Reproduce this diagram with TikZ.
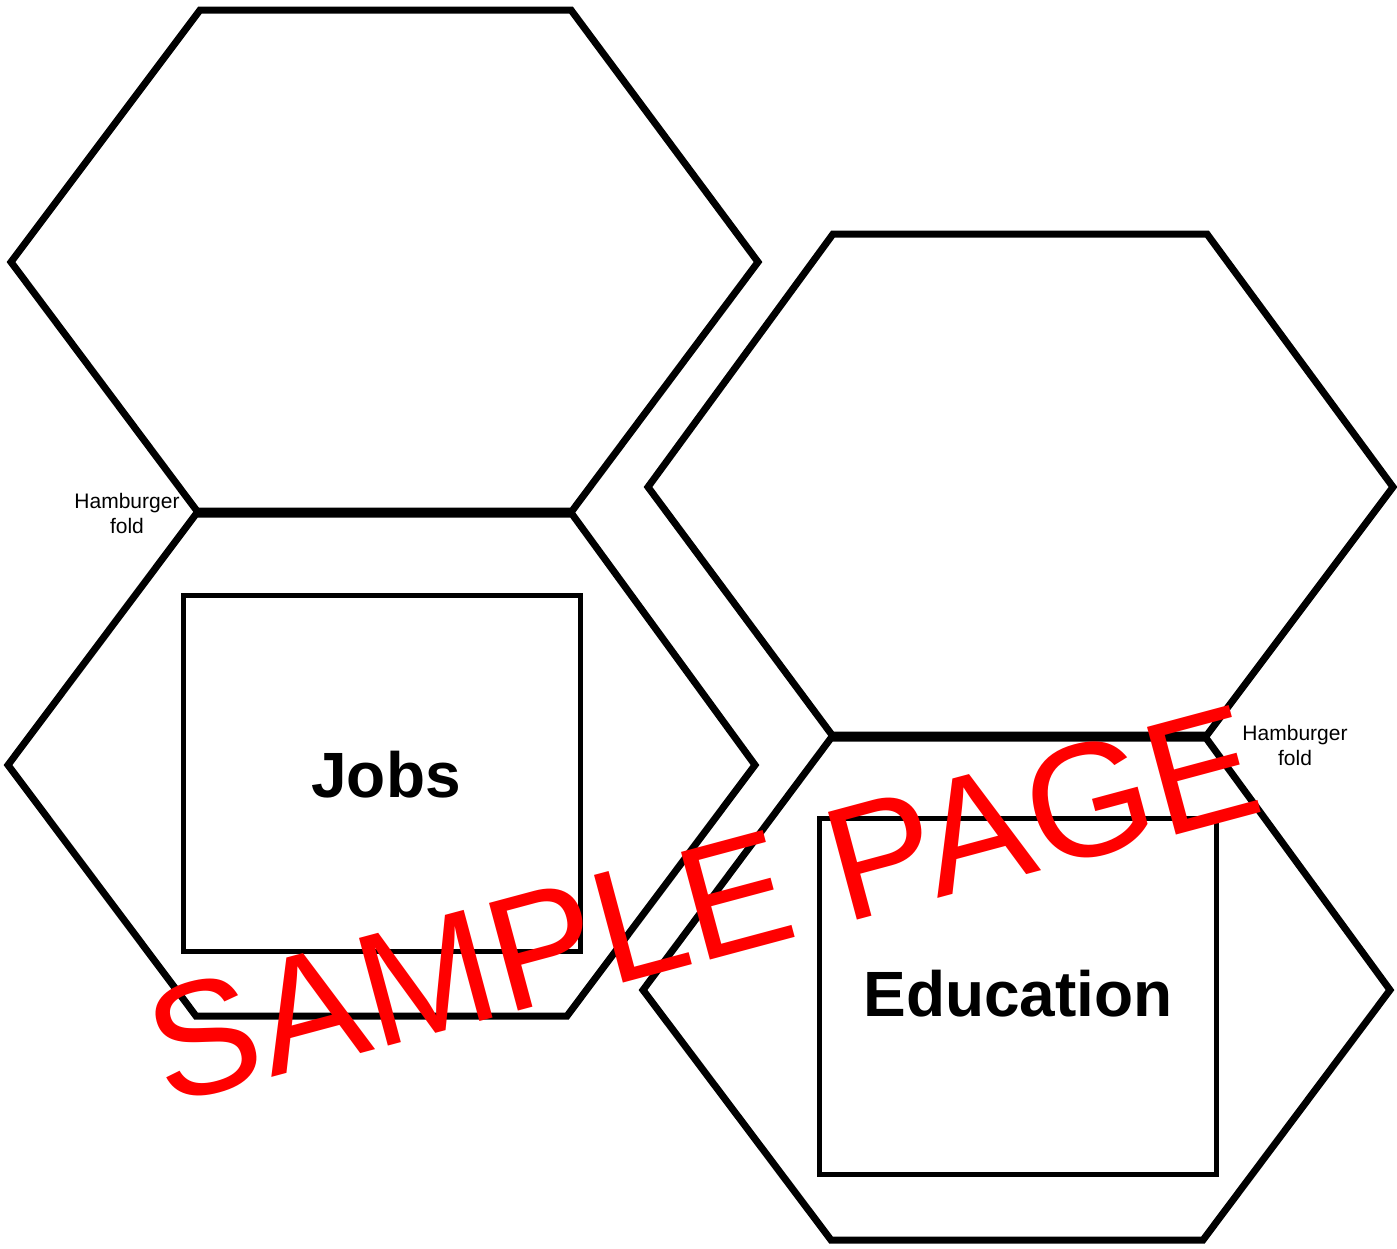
\documentclass[tikz,border=0pt]{standalone}
\usepackage{fontspec}
\setmainfont{Liberation Sans}
\begin{document}
\begin{tikzpicture}[x=0.5pt,y=-0.5pt,
  hexline/.style={line width=3.5pt,line join=miter},
  boxline/.style={line width=2.5pt,line join=miter},
  foldlabel/.style={font=\fontsize{10.5pt}{12.5pt}\selectfont,align=center,inner sep=0pt},
  boxlabel/.style={font=\fontsize{32pt}{36pt}\selectfont\bfseries,inner sep=0pt,anchor=base},
  stamp/.style={font=\fontsize{81pt}{90pt}\selectfont,text=red,inner sep=0pt,rotate=15}]
\useasboundingbox (0,0) rectangle (1397,1248);
% hexagons
\draw[hexline] (200,10) -- (571,10) -- (758,262) -- (572,511) -- (197,511) -- (11,262) -- cycle;
\draw[hexline] (196,514) -- (572,514) -- (755,765) -- (567,1016) -- (196,1016) -- (8,765) -- cycle;
\draw[hexline] (833,234) -- (1207,234) -- (1393,487) -- (1207,735) -- (832,735) -- (648,487) -- cycle;
\draw[hexline] (831,738) -- (1206,738) -- (1390,990) -- (1203,1240) -- (831,1240) -- (643,990) -- cycle;
% boxes
\draw[boxline] (183,595) rectangle (580,951);
\draw[boxline] (819,818) rectangle (1216,1174);
% labels
\node[boxlabel] (jobs) at (386,797) {Jobs};
\node[boxlabel] (edu) at (1018,1016) {Education};
\node[foldlabel] (fold1) at (127,513) {Hamburger\\fold};
\node[foldlabel] (fold2) at (1295,745) {Hamburger\\fold};
\node[stamp] (sample) at (703,904) {SAMPLE PAGE};
\end{tikzpicture}
\end{document}
